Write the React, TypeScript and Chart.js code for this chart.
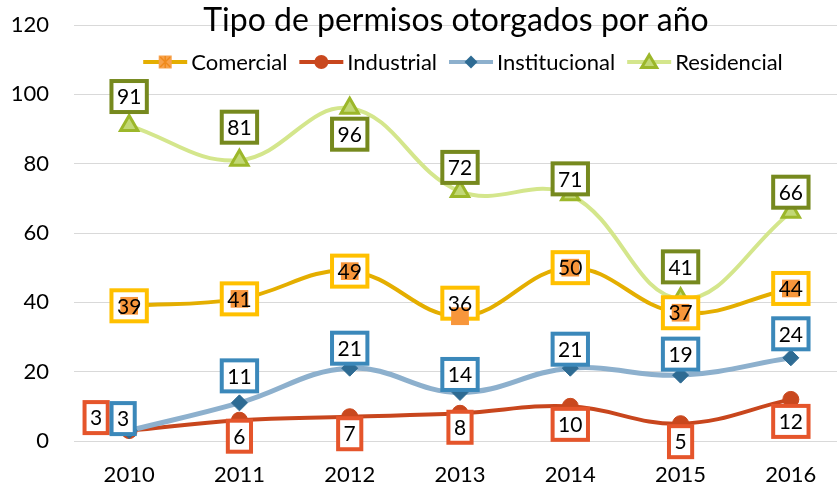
import React, { useEffect, useRef } from 'react';
import { Chart, registerables } from 'chart.js';

Chart.register(...registerables);

// ---------- data ----------
const years = ['2010', '2011', '2012', '2013', '2014', '2015', '2016'];
const comercial = [39, 41, 49, 36, 50, 37, 44];
const industrial = [3, 6, 7, 8, 10, 5, 12];
const institucional = [3, 11, 21, 14, 21, 19, 24];
const residencial = [91, 81, 96, 72, 71, 41, 66];
const yTickValues = [0, 20, 40, 60, 80, 100, 120];
const seriesNames = ['Comercial', 'Industrial', 'Institucional', 'Residencial'];
const titleText = 'Tipo de permisos otorgados por año';

// ---------- styles ----------
const FONT = 'Lato, "Open Sans", sans-serif';
const lineColors = ['#E4AE00', '#C8461D', '#8DB0CD', '#D4E68C'];
const markerFill = ['#F7963B', '#C9481E', '#2E6B93', '#C2D875'];
const markerBorder = ['#F7963B', '#C9481E', '#2E6B93', '#9CB72A'];
const labelBorder = ['#FFC000', '#E5552B', '#3B88BA', '#76891E'];
const pointStyles = ['rect', 'circle', 'rectRot', 'triangle'];
const pointRadii = [12.5, 8, 8, 10];
const pointBorderW = [0, 1, 1, 3];
const lineWidths = [4, 4, 5, 4];
// label offsets (dx, dy) from the point, per series / per point
const labelOffsets: number[][][] = [
  [[0, 0], [0, 0], [0, 0], [0, -13], [0, 0], [0, 0], [0, 0]],
  [[-33, -13], [0, 16], [0, 17], [0, 14], [0, 18], [0, 18], [0, 22]],
  [[-6, -12], [0, -27], [0, -20], [0, -18], [0, -19], [0, -21], [0, -24]],
  [[0, -29], [0, -33], [0, 26], [0, -24], [0, -16], [0, -32], [0, -20]],
];

function drawMarker(ctx: CanvasRenderingContext2D, idx: number, x: number, y: number) {
  ctx.save();
  if (idx === 0) {
    ctx.fillStyle = '#F7A14A';
    ctx.fillRect(x - 6.5, y - 6.5, 13, 13);
    ctx.strokeStyle = '#F08A1C';
    ctx.lineWidth = 1.5;
    ctx.beginPath();
    ctx.moveTo(x - 5, y - 5); ctx.lineTo(x + 5, y + 5);
    ctx.moveTo(x + 5, y - 5); ctx.lineTo(x - 5, y + 5);
    ctx.moveTo(x, y - 6); ctx.lineTo(x, y + 6);
    ctx.stroke();
  } else if (idx === 1) {
    ctx.fillStyle = markerFill[1];
    ctx.beginPath();
    ctx.arc(x, y, 7, 0, Math.PI * 2);
    ctx.fill();
  } else if (idx === 2) {
    ctx.fillStyle = markerFill[2];
    ctx.beginPath();
    ctx.moveTo(x, y - 6.5); ctx.lineTo(x + 6.5, y); ctx.lineTo(x, y + 6.5); ctx.lineTo(x - 6.5, y);
    ctx.closePath();
    ctx.fill();
  } else {
    ctx.fillStyle = markerFill[3];
    ctx.strokeStyle = markerBorder[3];
    ctx.lineWidth = 3;
    ctx.beginPath();
    ctx.moveTo(x, y - 7); ctx.lineTo(x + 7.5, y + 5.5); ctx.lineTo(x - 7.5, y + 5.5);
    ctx.closePath();
    ctx.fill();
    ctx.stroke();
  }
  ctx.restore();
}

const overlayPlugin = {
  id: 'overlay',
  afterDatasetsDraw(chart: any) {
    const ctx: CanvasRenderingContext2D = chart.ctx;
    ctx.save();
    ctx.font = `21px ${FONT}`;
    ctx.textAlign = 'center';
    ctx.textBaseline = 'middle';
    chart.data.datasets.forEach((ds: any, di: number) => {
      const meta = chart.getDatasetMeta(di);
      meta.data.forEach((pt: any, i: number) => {
        const [dx, dy] = labelOffsets[di][i];
        const txt = String(ds.data[i]);
        const tw = ctx.measureText(txt).width;
        const w = tw + 11;
        const h = 31;
        const cx = pt.x + dx;
        const cy = pt.y + dy;
        ctx.fillStyle = '#FFFFFF';
        ctx.fillRect(cx - w / 2, cy - h / 2, w, h);
        ctx.strokeStyle = labelBorder[di];
        ctx.lineWidth = 4;
        ctx.strokeRect(cx - w / 2, cy - h / 2, w, h);
        if (di === 0) {
          pt.draw(ctx, chart.chartArea);
        }
        ctx.fillStyle = '#000000';
        ctx.fillText(txt, cx, cy + 1);
      });
    });
    ctx.restore();
  },
  afterDraw(chart: any) {
    const ctx: CanvasRenderingContext2D = chart.ctx;
    ctx.save();
    // title
    ctx.font = `32px ${FONT}`;
    ctx.fillStyle = '#000000';
    ctx.textAlign = 'center';
    ctx.textBaseline = 'alphabetic';
    ctx.fillText(titleText, 456, 31);
    // legend
    ctx.font = `22px ${FONT}`;
    const lineLen = 44;
    const gapText = 4;
    const gapItem = 12;
    const widths = seriesNames.map((n) => lineLen + gapText + ctx.measureText(n).width);
    const total = widths.reduce((a, b) => a + b, 0) + gapItem * (seriesNames.length - 1);
    let x = 463 - total / 2;
    const ly = 62;
    ctx.textAlign = 'left';
    seriesNames.forEach((n, i) => {
      ctx.strokeStyle = lineColors[i];
      ctx.lineWidth = 4;
      ctx.beginPath();
      ctx.moveTo(x, ly);
      ctx.lineTo(x + lineLen, ly);
      ctx.stroke();
      drawMarker(ctx, i, x + lineLen / 2, ly);
      ctx.fillStyle = '#000000';
      ctx.fillText(n, x + lineLen + gapText, 69.5);
      x += widths[i] + gapItem;
    });
    ctx.restore();
  },
};

export default function App() {
  const ref = useRef<HTMLCanvasElement>(null);
  useEffect(() => {
    if (!ref.current) return;
    const series = [comercial, industrial, institucional, residencial];
    const chart = new Chart(ref.current, {
      type: 'line',
      data: {
        labels: years,
        datasets: series.map((d, i) => ({
          label: seriesNames[i],
          data: d,
          borderColor: lineColors[i],
          backgroundColor: markerFill[i],
          borderWidth: lineWidths[i],
          tension: 0.4,
          pointStyle: pointStyles[i] as any,
          pointRadius: pointRadii[i],
          pointBackgroundColor: markerFill[i],
          pointBorderColor: markerBorder[i],
          pointBorderWidth: pointBorderW[i],
          order: 4 - i,
          clip: false as any,
        })),
      },
      options: {
        animation: false,
        responsive: false,
        devicePixelRatio: 1,
        layout: { autoPadding: false, padding: { top: 25, left: 0, right: 0, bottom: 0 } },
        plugins: {
          legend: { display: false },
          title: { display: false },
          tooltip: { enabled: false },
        },
        scales: {
          x: {
            offset: true,
            grid: { display: false, drawTicks: false },
            border: { display: false },
            ticks: { color: '#000', font: { family: FONT, size: 22 }, padding: 21, maxRotation: 0 },
            afterFit: (s: any) => { s.height = 44; },
          },
          y: {
            min: 0,
            max: 120,
            grid: { color: '#D9D9D9', lineWidth: 1, drawTicks: false },
            border: { display: false },
            ticks: { color: '#000', font: { family: FONT, size: 22 }, padding: 25 },
            afterBuildTicks: (s: any) => { s.ticks = yTickValues.map((v) => ({ value: v })); },
            afterFit: (s: any) => { s.width = 74; s.paddingTop = 0; s.paddingBottom = 0; },
          },
        },
      },
      plugins: [overlayPlugin],
    });
    return () => chart.destroy();
  }, []);
  return (
    <div style={{ position: 'fixed', left: 0, top: 0, width: 837, height: 485, overflow: 'hidden', background: '#fff' }}>
      <canvas ref={ref} width={846} height={485} style={{ width: 846, height: 485, display: 'block' }} />
    </div>
  );
}
